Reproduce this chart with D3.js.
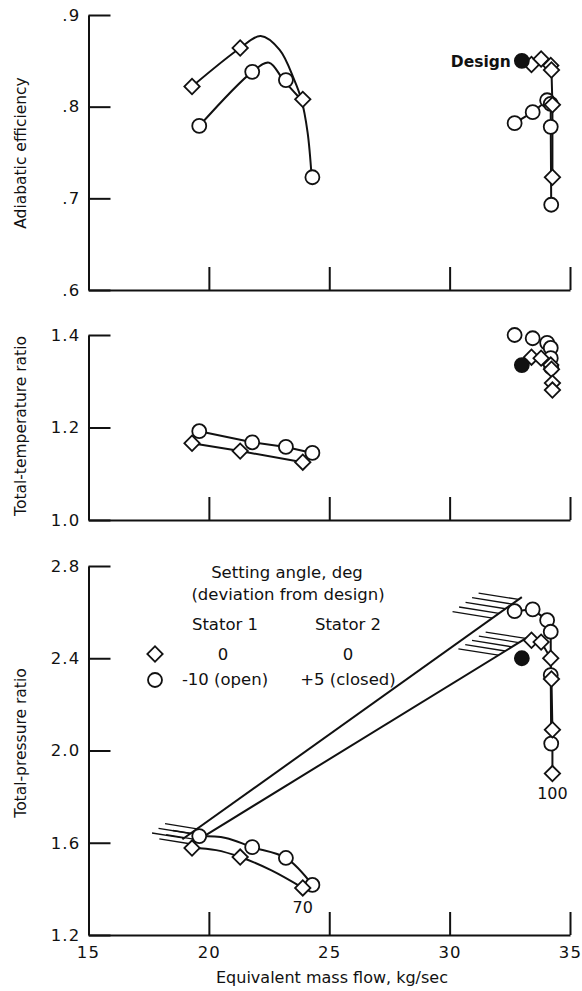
<!DOCTYPE html>
<html>
<head>
<meta charset="utf-8">
<script src="https://cdn.jsdelivr.net/npm/d3@7"></script>
<style>
  body { margin: 0; background: #fff; }
  svg text { font-family: "DejaVu Sans", "Liberation Sans", sans-serif; fill: #111; }
</style>
</head>
<body>
<div id="chart"></div>
<script>
// speed 70 %, stator 1 = 0 / stator 2 = 0 (diamonds)
var mass70Dia = [19.3, 21.3, 23.9];
var eff70Dia = [0.822, 0.864, 0.808];
var temp70Dia = [1.166, 1.149, 1.125];
var pres70Dia = [1.577, 1.538, 1.404];
// speed 70 %, stator 1 = -10 / stator 2 = +5 (circles)
var mass70Cir = [19.6, 21.8, 23.2, 24.3];
var eff70Cir = [0.779, 0.838, 0.829, 0.723];
var temp70Cir = [1.192, 1.168, 1.158, 1.145];
var pres70Cir = [1.629, 1.581, 1.534, 1.417];
// speed 100 %
var mass100Dia = [33.4, 33.8, 34.2, 34.23, 34.27, 34.27];
var eff100Dia = [0.846, 0.852, 0.845, 0.840, 0.802, 0.723];
var temp100Dia = [1.352, 1.350, 1.335, 1.326, 1.296, 1.281];
var pres100Dia = [2.478, 2.470, 2.400, 2.310, 2.090, 1.900];
var mass100Cir = [32.7, 33.45, 34.05, 34.2, 34.2, 34.22];
var eff100Cir = [0.782, 0.794, 0.807, 0.803, 0.778, 0.693];
var temp100Cir = [1.400, 1.393, 1.383, 1.372, 1.350, 1.330];
var pres100Cir = [2.604, 2.612, 2.565, 2.515, 2.327, 2.030];
// design point
var designMass = 33.0, designEff = 0.850, designTemp = 1.335, designPres = 2.40;

// faired curves
var fairEff70Dia = [[19.3,0.822],[21.3,0.864],[22.15,0.877],[22.94,0.862],[23.55,0.829],[23.84,0.808],[24.1,0.772],[24.27,0.723]];
var fairEff70Cir = [[19.6,0.779],[21.8,0.838],[22.5,0.848],[23.1,0.829],[23.75,0.810]];
var fairPres70Dia = [[19.3,1.577],[20.3,1.568],[21.3,1.538],[22.6,1.480],[23.9,1.404]];
var fairPres70Cir = [[19.6,1.629],[20.7,1.621],[21.8,1.581],[23.2,1.534],[24.3,1.417]];
// surge lines
var surgeCir = [[18.9,1.615],[33.0,2.665]];
var surgeDia = [[19.2,1.590],[33.3,2.495]];

var xTicks = [15, 20, 25, 30, 35];
var effTicks = [0.6, 0.7, 0.8, 0.9];
var tempTicks = [1.0, 1.2, 1.4];
var presTicks = [1.2, 1.6, 2.0, 2.4, 2.8];

var W = 582, H = 991;
var svg = d3.select("#chart").append("svg").attr("width", W).attr("height", H);

var x = d3.scaleLinear().domain([15, 35]).range([88.5, 570]);
var yEff = d3.scaleLinear().domain([0.6, 0.9]).range([290, 15]);
var yTemp = d3.scaleLinear().domain([1.0, 1.4]).range([520, 335]);
var yPres = d3.scaleLinear().domain([1.2, 2.8]).range([935, 566]);

function zip(a, b) { return a.map(function(v, i) { return [v, b[i]]; }); }

function panel(y, ticks, fmt, showX) {
	var g = svg.append("g");
	g.append("g").attr("transform", "translate(" + x(15) + ",0)")
		.call(d3.axisLeft(y).tickValues(ticks).tickSizeInner(-22).tickSizeOuter(0).tickPadding(8).tickFormat(fmt));
	var xa = g.append("g").attr("transform", "translate(0," + y.range()[0] + ")")
		.call(d3.axisBottom(x).tickValues(xTicks.slice(1)).tickSizeInner(-23).tickSizeOuter(0).tickPadding(11)
			.tickFormat(showX ? d3.format("d") : ""));
	if (showX)
		xa.append("text").attr("x", x(15)).attr("y", 11).attr("dy", "0.71em")
			.attr("text-anchor", "middle").text("15");
	g.selectAll(".domain, .tick line").attr("stroke", "#111").attr("stroke-width", 2);
	g.selectAll("text").attr("font-size", 16.5).attr("fill", "#111").attr("letter-spacing", 1.2);
	return g;
}

panel(yEff, effTicks, function(d) { return d3.format(".1f")(d).replace(/^0/, ""); }, false);
panel(yTemp, tempTicks, d3.format(".1f"), false);
panel(yPres, presTicks, d3.format(".1f"), true);

// axis titles
function yTitle(txt, cy) {
	svg.append("text").attr("transform", "translate(26," + cy + ") rotate(-90)")
		.attr("text-anchor", "middle").attr("font-size", 15.5).text(txt);
}
yTitle("Adiabatic efficiency", 153);
yTitle("Total-temperature ratio", 426);
yTitle("Total-pressure ratio", 743);
svg.append("text").attr("x", 332).attr("y", 983).attr("text-anchor", "middle")
	.attr("font-size", 16).text("Equivalent mass flow, kg/sec");

function drawLine(pts, y, curve) {
	svg.append("path").datum(pts)
		.attr("d", d3.line().x(function(d) { return x(d[0]); }).y(function(d) { return y(d[1]); }).curve(curve || d3.curveLinear))
		.attr("fill", "none").attr("stroke", "#111").attr("stroke-width", 2);
}

// hatch marks at the ends of surge lines
function hatch(pts, y, atEnd, n, len) {
	var p0 = [x(pts[0][0]), y(pts[0][1])], p1 = [x(pts[1][0]), y(pts[1][1])];
	var L = Math.hypot(p1[0] - p0[0], p1[1] - p0[1]);
	for (var k = 0; k < n; k++) {
		var t = atEnd ? 1 - (k * 8 + 4) / L : (k * 8 + 2) / L;
		var px = p0[0] + (p1[0] - p0[0]) * t, py = p0[1] + (p1[1] - p0[1]) * t;
		svg.append("line").attr("x1", px).attr("y1", py).attr("x2", px - len).attr("y2", py - len * 0.16)
			.attr("stroke", "#111").attr("stroke-width", 1.3);
	}
}

// top panel lines
drawLine(fairEff70Dia, yEff, d3.curveCatmullRom);
drawLine(fairEff70Cir, yEff, d3.curveCatmullRom);
drawLine(zip(mass100Dia, eff100Dia), yEff);
drawLine(zip(mass100Cir, eff100Cir), yEff);
// middle panel lines
drawLine(zip(mass70Dia, temp70Dia), yTemp);
drawLine(zip(mass70Cir, temp70Cir), yTemp);
// bottom panel lines
drawLine(fairPres70Dia, yPres, d3.curveCatmullRom);
drawLine(fairPres70Cir, yPres, d3.curveCatmullRom);
drawLine(zip(mass100Dia, pres100Dia), yPres);
drawLine(zip(mass100Cir, pres100Cir), yPres);
drawLine(surgeCir, yPres);
drawLine(surgeDia, yPres);
hatch(surgeCir, yPres, true, 5, 40);
hatch(surgeDia, yPres, true, 5, 40);
hatch(surgeCir, yPres, false, 3, 32);
hatch(surgeDia, yPres, false, 3, 32);

var diamond = d3.symbol().type(d3.symbolSquare).size(118);
function markers(ms, vs, y, kind) {
	var sel = svg.append("g").selectAll("path").data(zip(ms, vs)).enter();
	if (kind === "dia")
		sel.append("path").attr("d", diamond)
			.attr("transform", function(d) { return "translate(" + x(d[0]) + "," + y(d[1]) + ") rotate(45)"; })
			.attr("fill", "#fff").attr("stroke", "#111").attr("stroke-width", 1.8);
	else
		sel.append("circle").attr("cx", function(d) { return x(d[0]); }).attr("cy", function(d) { return y(d[1]); })
			.attr("r", 7).attr("fill", kind === "fill" ? "#111" : "#fff").attr("stroke", "#111").attr("stroke-width", 1.8);
}

markers(mass70Cir, eff70Cir, yEff, "cir");
markers(mass70Dia, eff70Dia, yEff, "dia");
markers(mass100Cir, eff100Cir, yEff, "cir");
markers(mass100Dia, eff100Dia, yEff, "dia");
markers([designMass], [designEff], yEff, "fill");

markers(mass70Cir, temp70Cir, yTemp, "cir");
markers(mass70Dia, temp70Dia, yTemp, "dia");
markers(mass100Cir, temp100Cir, yTemp, "cir");
markers(mass100Dia, temp100Dia, yTemp, "dia");
markers([designMass], [designTemp], yTemp, "fill");

markers(mass70Cir, pres70Cir, yPres, "cir");
markers(mass70Dia, pres70Dia, yPres, "dia");
markers(mass100Cir, pres100Cir, yPres, "cir");
markers(mass100Dia, pres100Dia, yPres, "dia");
markers([designMass], [designPres], yPres, "fill");

// annotations
svg.append("text").attr("x", x(designMass) - 11).attr("y", yEff(designEff) + 6).attr("text-anchor", "end")
	.attr("font-size", 15.5).attr("font-weight", "bold").text("Design");
svg.append("text").attr("x", x(mass100Dia[5])).attr("y", yPres(pres100Dia[5]) + 25).attr("text-anchor", "middle")
	.attr("font-size", 16).text("100");
svg.append("text").attr("x", x(mass70Dia[2])).attr("y", yPres(pres70Dia[2]) + 25).attr("text-anchor", "middle")
	.attr("font-size", 16).text("70");

// legend
var lg = svg.append("g").attr("font-size", 16.5);
lg.append("text").attr("x", 287).attr("y", 578).attr("text-anchor", "middle").text("Setting angle, deg");
lg.append("text").attr("x", 288).attr("y", 600).attr("text-anchor", "middle").text("(deviation from design)");
lg.append("text").attr("x", 225).attr("y", 630).attr("text-anchor", "middle").text("Stator 1");
lg.append("text").attr("x", 348).attr("y", 630).attr("text-anchor", "middle").text("Stator 2");
lg.append("text").attr("x", 223).attr("y", 660).attr("text-anchor", "middle").text("0");
lg.append("text").attr("x", 348).attr("y", 660).attr("text-anchor", "middle").text("0");
lg.append("text").attr("x", 225).attr("y", 685).attr("text-anchor", "middle").text("-10 (open)");
lg.append("text").attr("x", 348).attr("y", 685).attr("text-anchor", "middle").text("+5 (closed)");
lg.append("path").attr("d", diamond).attr("transform", "translate(155,654) rotate(45)")
	.attr("fill", "#fff").attr("stroke", "#111").attr("stroke-width", 1.8);
lg.append("circle").attr("cx", 155).attr("cy", 680).attr("r", 7)
	.attr("fill", "#fff").attr("stroke", "#111").attr("stroke-width", 1.8);
</script>
</body>
</html>
